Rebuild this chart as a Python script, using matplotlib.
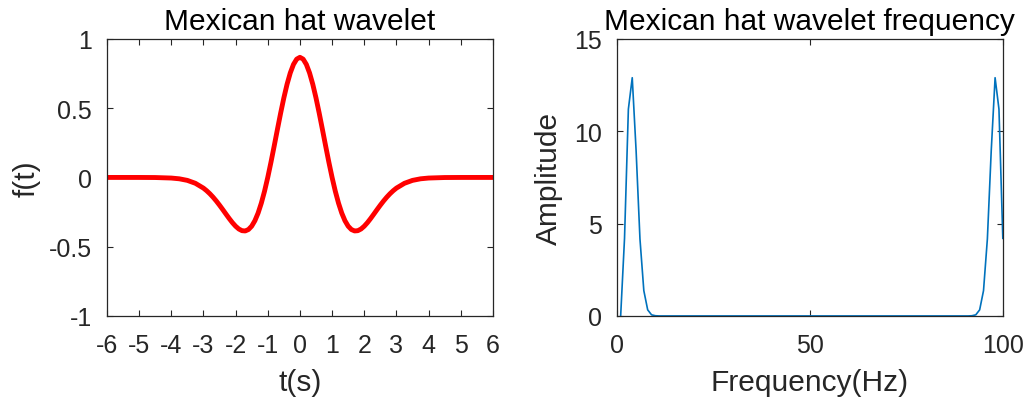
import numpy as np
import matplotlib
matplotlib.use("Agg")
import matplotlib.pyplot as plt

plt.rcParams['font.family'] = ['Liberation Sans', 'DejaVu Sans']

# Mexican hat wavelet, sampled (symmetric about t=0)
t_half = [0.0, 0.1, 0.2, 0.3, 0.4, 0.5, 0.6, 0.7, 0.8, 0.9, 1.0,
          1.1, 1.2, 1.3, 1.4, 1.5, 1.6, 1.7, 1.8, 1.9, 2.0,
          2.1, 2.2, 2.3, 2.4, 2.5, 2.6, 2.7, 2.8, 2.9, 3.0,
          3.25, 3.5, 3.75, 4.0, 4.5, 5.0, 6.0]
f_half = [0.8673, 0.8543, 0.8161, 0.7545, 0.6725, 0.5740, 0.4636, 0.3462, 0.2267, 0.1099, 0.0,
          -0.0995, -0.1857, -0.2571, -0.3125, -0.3520, -0.3762, -0.3864, -0.3845, -0.3723, -0.3521,
          -0.3261, -0.2961, -0.2642, -0.2317, -0.2001, -0.1701, -0.1425, -0.1177, -0.0959, -0.0771,
          -0.0423, -0.0213, -0.0099, -0.0044, -0.0007, -0.0001, 0.0]

# FFT magnitude, 100 bins plotted against bin number 1..100
amp_low = [0.0, 4.2, 11.2, 12.9, 8.95, 4.17, 1.37, 0.33, 0.06, 0.01]
amp_mid = [0.0] * 81
amp_high = [0.01, 0.06, 0.33, 1.37, 4.17, 8.95, 12.9, 11.2, 4.2]

t = np.concatenate([-np.array(t_half[:0:-1]), t_half])
f = np.concatenate([np.array(f_half[:0:-1]), f_half])
amp = np.array(amp_low + amp_mid + amp_high)
bins = np.arange(1, len(amp) + 1)

grey = '#262626'
fs = 18     # tick labels
lfs = 21.5  # titles and axis labels

fig = plt.figure(figsize=(10.28, 4.10), dpi=100)
ax1 = fig.add_axes([0.104, 0.227, 0.3755, 0.6756])
ax2 = fig.add_axes([0.600, 0.227, 0.3755, 0.6756])

ax1.plot(t, f, color='red', linewidth=3.5, solid_joinstyle='round')
ax1.set_xlim(-6, 6)
ax1.set_ylim(-1, 1)
ax1.set_xticks(range(-6, 7))
ax1.set_yticks([-1, -0.5, 0, 0.5, 1])
ax1.set_yticklabels(['-1', '-0.5', '0', '0.5', '1'])
ax1.set_xticklabels([str(v) for v in range(-6, 7)])
ax1.set_title('Mexican hat wavelet', fontsize=lfs, color='black', pad=7)
ax1.set_xlabel('t(s)', fontsize=lfs, color=grey, labelpad=8)
ax1.set_ylabel('f(t)', fontsize=lfs, color=grey, labelpad=6)

ax2.plot(bins, amp, color='#0072BD', linewidth=1.2)
ax2.set_xlim(0, 100)
ax2.set_ylim(0, 15)
ax2.set_xticks([0, 50, 100])
ax2.set_yticks([0, 5, 10, 15])
ax2.set_title('Mexican hat wavelet frequency', fontsize=lfs, color='black', pad=7)
ax2.set_xlabel('Frequency(Hz)', fontsize=lfs, color=grey, labelpad=8)
ax2.set_ylabel('Amplitude', fontsize=lfs, color=grey, labelpad=8)

for ax in (ax1, ax2):
    for s in ax.spines.values():
        s.set_color(grey)
        s.set_linewidth(0.9)
    ax.tick_params(direction='in', length=4, width=0.8, color=grey,
                   labelcolor=grey, labelsize=fs, top=True, right=True)
    ax.tick_params(axis='x', pad=12)
    ax.tick_params(axis='y', pad=11)

fig.savefig('out.png', dpi=100)
